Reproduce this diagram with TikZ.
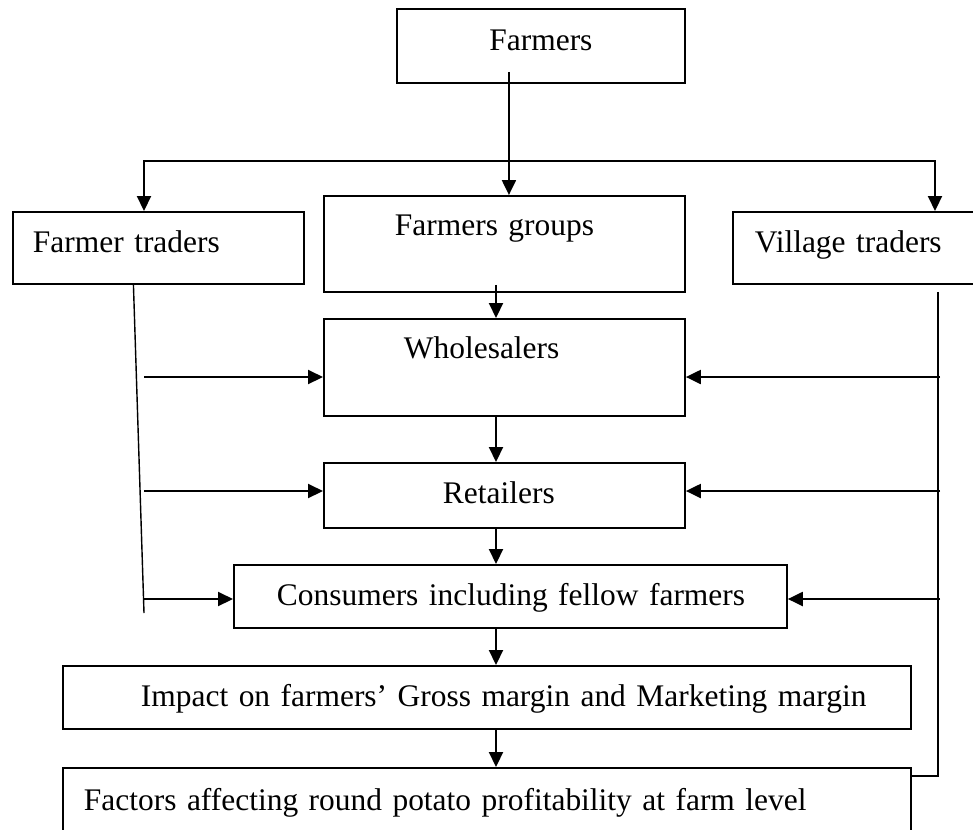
\documentclass[tikz,border=0pt]{standalone}
\usepackage{fontspec}
\setmainfont{Liberation Serif}
\usepackage{tikz}
\usetikzlibrary{arrows.meta,calc}
\setlength{\parindent}{0pt}
\tikzstyle{box} = [rectangle, draw=black, line width=1.1pt, inner sep=0pt, anchor=north west]
\tikzstyle{arrow} = [line width=1.2pt, -{Triangle[length=0.3cm, width=0.28cm]}]
\tikzstyle{split} = [line width=1.2pt, {Triangle[length=0.3cm, width=0.28cm]}-{Triangle[length=0.3cm, width=0.28cm]}]
\tikzstyle{feed} = [line width=0.8pt]

\begin{document}
\begin{tikzpicture}[x=0.02cm, y=-0.02cm, font=\fontsize{17.9}{20}\selectfont]
	\useasboundingbox (0,0) rectangle (973,829);

	\node (farmers) [box, text width=5.76cm, text height=0.84cm, text depth=0.64cm, align=center] at (396,8) {Farmers};
	\node (ftraders) [box, text width=5.82cm, text height=0.82cm, text depth=0.62cm, align=left] at (12,211) {\hspace*{0.4cm}Farmer traders};
	\node (fgroups) [box, text width=7.22cm, text height=0.8cm, text depth=1.12cm, align=left] at (323,195) {\hspace*{1.42cm}Farmers groups};
	\node (vtraders) [box, text width=5.16cm, text height=0.82cm, text depth=0.62cm, align=left] at (732,211) {\hspace*{0.44cm}Village traders};
	\node (wholesalers) [box, text width=7.22cm, text height=0.8cm, text depth=1.14cm, align=left] at (323,318) {\hspace*{1.6cm}Wholesalers};
	\node (retailers) [box, text width=7.22cm, text height=0.82cm, text depth=0.48cm, align=left] at (323,462) {\hspace*{2.38cm}Retailers};
	\node (consumers) [box, text width=11.06cm, text height=0.82cm, text depth=0.44cm, align=left] at (233,564) {\hspace*{0.86cm}Consumers including fellow farmers};
	\node (impact) [box, text width=16.96cm, text height=0.82cm, text depth=0.44cm, align=left] at (62,665) {\hspace*{1.56cm}Impact on farmers’ Gross margin and Marketing margin};
	\node (factors) [box, text width=16.96cm, text height=0.86cm, text depth=1.0cm, align=left] at (62,767) {\hspace*{0.42cm}Factors affecting round potato profitability at farm level};

	% farmers to the three first buyers
	\draw[arrow] ($(farmers.south)+(-32,-12)$) coordinate (drop) -- (drop |- fgroups.north);
	\coordinate (lbus) at (144,161);
	\coordinate (rbus) at (935,161);
	\draw[split] (lbus |- ftraders.north) -- (lbus) -- (rbus) -- (rbus |- vtraders.north);

	% main chain
	\coordinate (spine) at (496,0);
	\draw[arrow] ($(spine |- fgroups.south)+(0,-8)$) -- (spine |- wholesalers.north);
	\foreach \from/\to in {wholesalers/retailers, retailers/consumers, consumers/impact, impact/factors}
		\draw[arrow] (spine |- \from.south) -- (spine |- \to.north);

	% farmer traders side
	\coordinate (lfoot) at (144,613);
	\draw[feed] ($(ftraders.south)+(-25,0)$) -- (lfoot);
	\foreach \stage/\ypos in {wholesalers/377, retailers/491, consumers/599}
		\draw[arrow] (144,\ypos) coordinate (tail) -- (\stage.west |- tail);

	% village traders side
	\draw[feed] ($(vtraders.south)+(76,7)$) |- ($(factors.north east)+(0,9)$);
	\foreach \stage/\ypos in {wholesalers/377, retailers/491, consumers/599}
		\draw[arrow] (940,\ypos) coordinate (tail) -- (\stage.east |- tail);
\end{tikzpicture}
\end{document}
